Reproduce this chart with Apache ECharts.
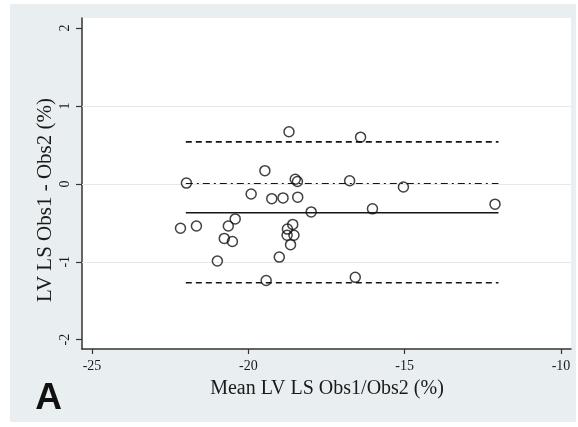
<!DOCTYPE html>
<html>
<head>
<meta charset="utf-8">
<script src="https://cdn.jsdelivr.net/npm/echarts@6/dist/echarts.min.js"></script>
<style>
  html, body { margin: 0; padding: 0; background: #fff; }
  #chart { position: absolute; left: 10px; top: 4px; width: 566px; height: 418px; }
</style>
</head>
<body>
<div id="chart"></div>
<script>
// Bland-Altman: mean of the two observers vs. difference
const meanVals = [-18.70, -19.47, -21.98, -18.50, -18.43, -19.91, -19.25, -18.89, -18.42, -17.99,
  -20.42, -22.17, -21.66, -20.64, -18.58, -18.75, -18.76, -18.54, -20.77, -20.51,
  -18.65, -19.01, -20.99, -19.43, -16.41, -16.76, -15.04, -16.03, -12.11, -16.58]
const diffVals = [0.67, 0.17, 0.01, 0.06, 0.03, -0.13, -0.19, -0.18, -0.17, -0.36,
  -0.45, -0.57, -0.54, -0.54, -0.52, -0.58, -0.66, -0.66, -0.70, -0.74,
  -0.78, -0.94, -0.99, -1.24, 0.60, 0.04, -0.04, -0.32, -0.26, -1.20]

const meanDiff = -0.37
const upperLoA = 0.54
const lowerLoA = -1.27
const lineRange = [-22, -12]

const xTicks = [-25, -20, -15, -10]
const yTicks = [-2, -1, 0, 1, 2]
const yGrid = [-1, 0, 1]

const serif = "'Liberation Serif', 'Times New Roman', serif"
const chart = echarts.init(document.getElementById('chart'))

const points = meanVals.map((x, i) => [x, diffVals[i]])
const hline = (y) => lineRange.map(x => [x, y])

const refLine = (name, y, type) => ({
  name,
  type: 'line',
  data: hline(y),
  symbol: 'none',
  silent: true,
  z: 3,
  lineStyle: { color: '#151515', width: 1.6, type }
})

const option = {
  backgroundColor: '#e9eff1',
  animation: false,
  grid: {
    left: 72,
    right: 5,
    top: 14,
    bottom: 73,
    show: true,
    backgroundColor: '#fff',
    borderWidth: 0
  },
  xAxis: {
    type: 'value',
    min: -25.32,
    max: -9.68,
    axisLine: { show: true, onZero: false, lineStyle: { color: '#333', width: 1.5 } },
    axisTick: { show: true, length: 5, customValues: xTicks, lineStyle: { color: '#333', width: 1.2 } },
    axisLabel: { customValues: xTicks, margin: 10, color: '#1a1a1a', fontFamily: serif, fontSize: 14 },
    splitLine: { show: false }
  },
  yAxis: {
    type: 'value',
    min: -2.12,
    max: 2.13,
    axisLine: { show: true, onZero: false, lineStyle: { color: '#333', width: 1.5 } },
    axisTick: { show: true, length: 6, customValues: yTicks, lineStyle: { color: '#333', width: 1.2 } },
    axisLabel: { customValues: yTicks, rotate: 90, margin: 10, color: '#1a1a1a', fontFamily: serif, fontSize: 14 },
    splitLine: { show: false }
  },
  graphic: [
    {
      type: 'text',
      x: 35,
      y: 196,
      rotation: Math.PI / 2,
      style: {
        text: 'LV LS Obs1 - Obs2 (%)',
        font: '21px ' + serif,
        fill: '#1a1a1a',
        align: 'center',
        verticalAlign: 'middle'
      }
    },
    {
      type: 'text',
      x: 317,
      y: 385,
      style: {
        text: 'Mean LV LS Obs1/Obs2 (%)',
        font: '20px ' + serif,
        fill: '#1a1a1a',
        align: 'center',
        verticalAlign: 'middle'
      }
    },
    {
      type: 'text',
      x: 38.5,
      y: 394.5,
      style: {
        text: 'A',
        font: "bold 37px 'Liberation Sans', Arial, sans-serif",
        fill: '#111',
        align: 'center',
        verticalAlign: 'middle'
      }
    }
  ],
  series: [
    // 网格线
    {
      type: 'line',
      data: [],
      silent: true,
      markLine: {
        silent: true,
        symbol: 'none',
        label: { show: false },
        lineStyle: { color: '#e4e9eb', width: 1, type: 'solid' },
        data: yGrid.map(y => ({ yAxis: y }))
      },
      z: 1
    },
    refLine('upper', upperLoA, [6, 4]),
    refLine('lower', lowerLoA, [6, 4]),
    refLine('zero', 0, [7, 4, 2, 4]),
    refLine('mean', meanDiff, 'solid'),
    {
      name: 'diff',
      type: 'scatter',
      data: points,
      symbol: 'circle',
      symbolSize: 10,
      z: 5,
      itemStyle: { color: 'rgba(0,0,0,0)', borderColor: '#111', borderWidth: 1.5 }
    }
  ]
}

chart.setOption(option)
</script>
</body>
</html>
